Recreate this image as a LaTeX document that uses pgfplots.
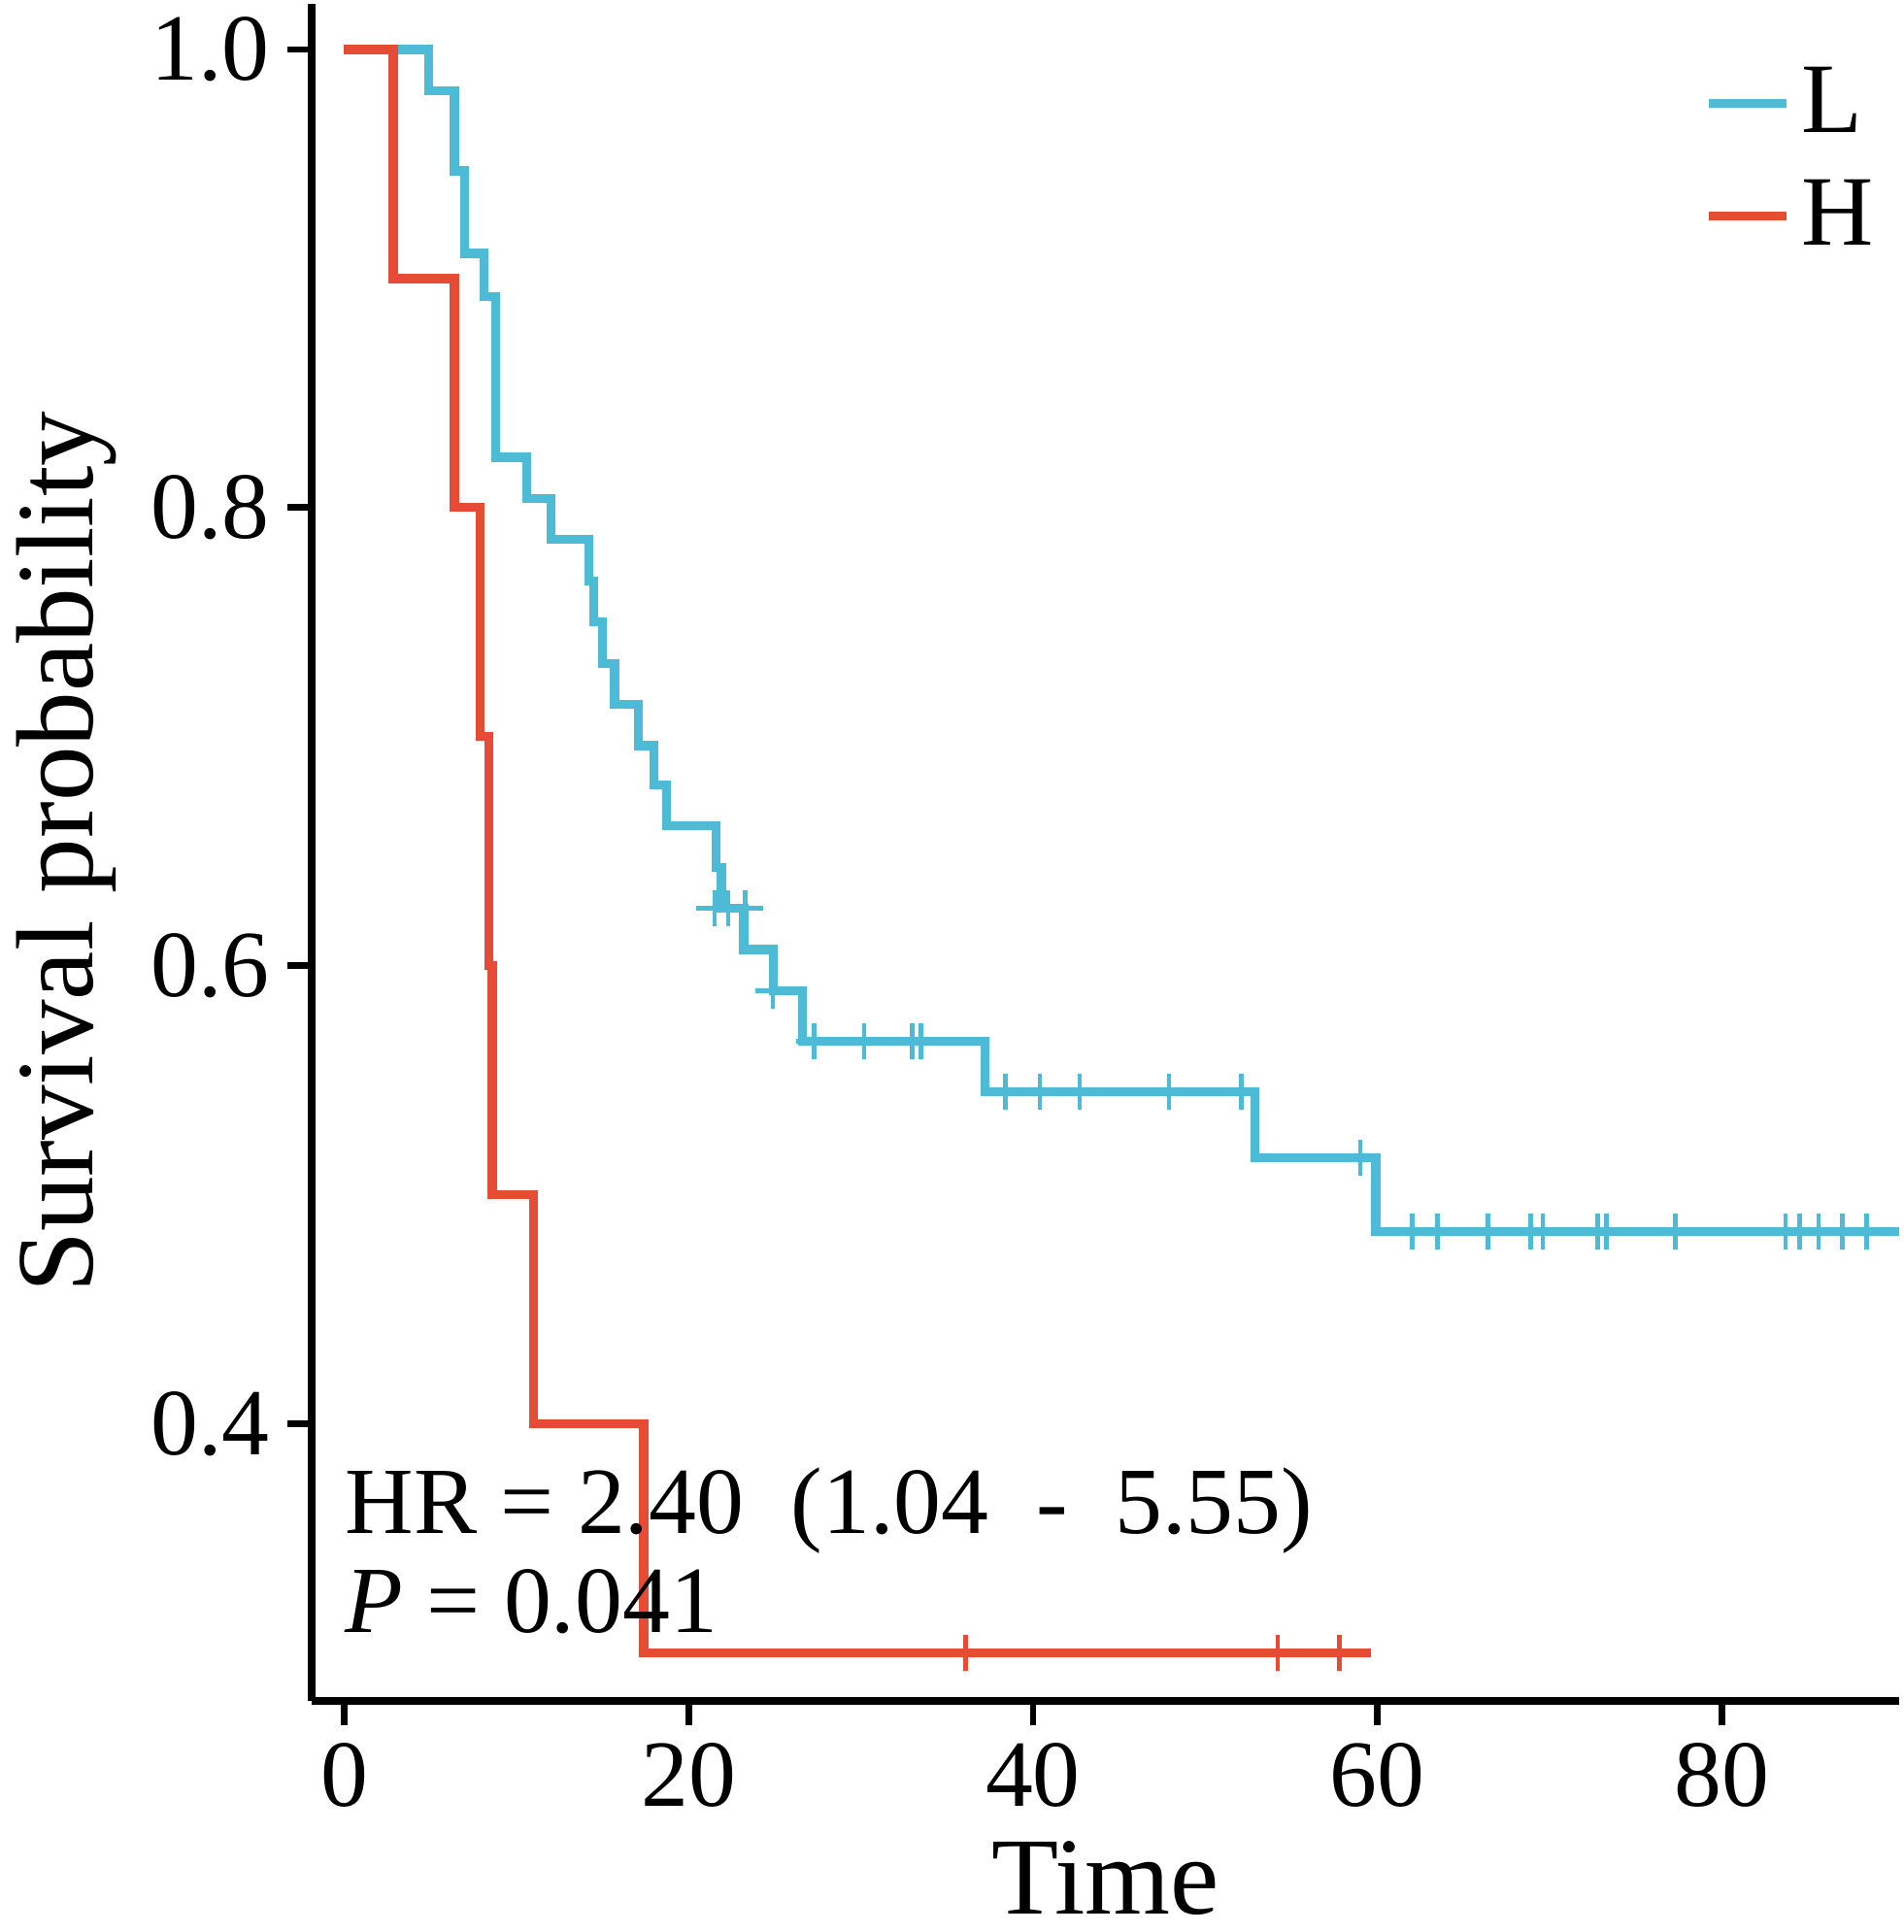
\documentclass[border=0pt]{standalone}
\usepackage{pgfplots}
\pgfplotsset{compat=1.18}
\usepackage{fontspec}
\setmainfont{Liberation Serif}
\definecolor{cL}{HTML}{4DBBD5}
\definecolor{cH}{HTML}{E64B35}
\begin{document}
\begin{tikzpicture}
\begin{axis}[
  scale only axis, width=318pt, height=340pt,
  xmin=-1.87, xmax=90.3, ymin=0.279, ymax=1.02,
  axis x line*=bottom, axis y line*=left,
  axis line style={line width=1.5pt,-},
  xtick={0,20,40,60,80}, ytick={0.4,0.6,0.8,1.0},
  yticklabel style={/pgf/number format/.cd,fixed,fixed zerofill,precision=1},
  /pgf/number format/assume math mode=true,
  tick align=outside, major tick length=5pt,
  tick style={line width=1.3pt,black},
  ticklabel style={font=\fontsize{19}{19}\selectfont},
  xlabel={Time}, ylabel={Survival probability},
  label style={font=\fontsize{22}{22}\selectfont},
  legend style={draw=none, at={(rel axis cs:1,0.975)}, anchor=north east, font=\fontsize{20}{20}\selectfont, row sep=4pt},
  legend image code/.code={\draw[#1,line width=1.8pt] (0cm,0cm) -- (0.55cm,0cm);},
  legend cell align=left,
  clip=false,
]
\addplot[cL, line width=1.8pt, const plot] coordinates {
(0,1.0)(4.9,0.982)(6.4,0.947)(7.0,0.911)(8.1,0.892)(8.8,0.822)(10.6,0.804)(12.0,0.786)(14.2,0.768)(14.5,0.75)(15.0,0.732)(15.7,0.714)(17.1,0.696)(18.0,0.679)(18.7,0.661)(21.6,0.643)(21.9,0.625)(23.2,0.607)(24.9,0.589)(26.6,0.567)(37.2,0.545)(52.9,0.516)(59.9,0.484)(90.3,0.484)};
\addlegendentry{L}
\addplot[cH, line width=1.8pt, const plot] coordinates {
(0,1.0)(2.85,0.9)(6.4,0.8)(7.9,0.7)(8.4,0.6)(8.6,0.5)(11.0,0.4)(17.4,0.3)(59.6,0.3)};
\addlegendentry{H}
\addplot[cL, only marks, mark=+, mark size=3.6pt, line width=0.9pt, forget plot] coordinates {
(21.5,0.625)(22.3,0.625)(23.3,0.625)(24.9,0.589)
(27.3,0.567)(30.2,0.567)(33.0,0.567)(33.5,0.567)
(38.4,0.545)(40.4,0.545)(42.7,0.545)(47.9,0.545)(52.1,0.545)
(59.0,0.516)
(62.0,0.484)(63.5,0.484)(66.4,0.484)(68.9,0.484)(69.6,0.484)(72.8,0.484)(73.3,0.484)(77.3,0.484)(83.7,0.484)(84.5,0.484)(85.6,0.484)(87.0,0.484)(88.4,0.484)};
\addplot[cH, only marks, mark=+, mark size=3.6pt, line width=0.9pt, forget plot] coordinates {
(36.1,0.3)(54.2,0.3)(57.8,0.3)};
\node[anchor=base west, font=\fontsize{19}{19}\selectfont, inner sep=0pt] at (axis cs:0,0.352) {HR = 2.40~~(1.04~~-~~5.55)};
\node[anchor=base west, font=\fontsize{19}{19}\selectfont, inner sep=0pt] at (axis cs:0,0.309) {\textit{P} = 0.041};
\end{axis}
\end{tikzpicture}
\end{document}
